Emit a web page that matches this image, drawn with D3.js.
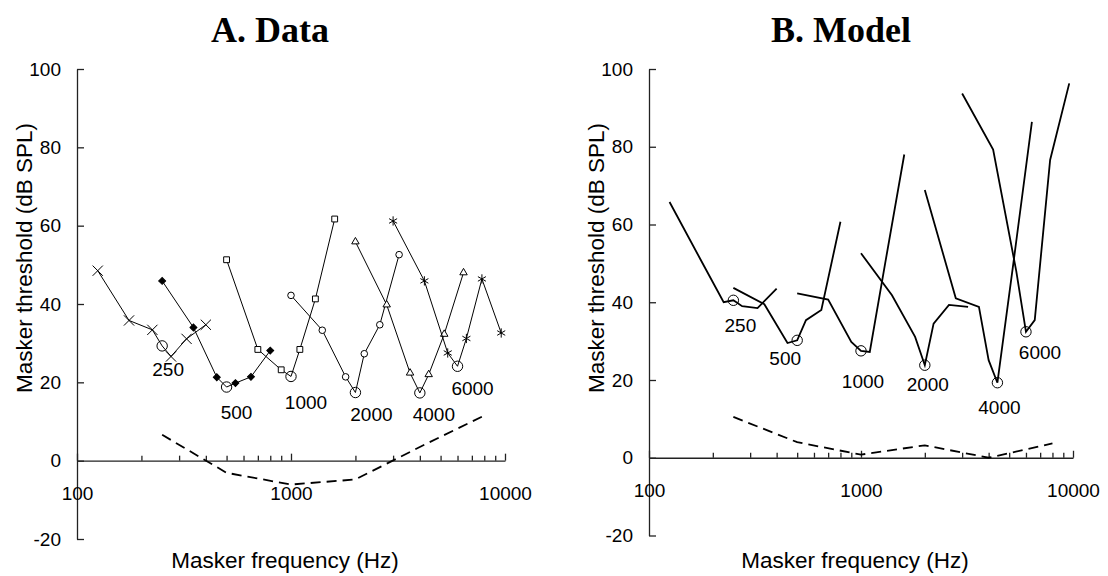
<!DOCTYPE html>
<html>
<head>
<meta charset="utf-8">
<script src="https://cdn.jsdelivr.net/npm/d3@7"></script>
<style>
body { margin: 0; background: #fff; }
svg { display: block; }
</style>
</head>
<body>
<svg></svg>
<script>
const width = 1108;
const height = 576;
const svg = d3.select("svg").attr("width", width).attr("height", height);

// probe frequencies (Hz), one tuning curve each
const probeLabels = ["250", "500", "1000", "2000", "4000", "6000"];
// where the open circle sits on each curve (model 4000 Hz tip is at 4400)
const circlesA = [250, 500, 1000, 2000, 4000, 6000];
const circlesB = [250, 500, 1000, 2000, 4400, 6000];

// A. measured masker thresholds: [masker Hz, dB SPL]
const data250 = [[125, 48.5], [175, 35.8], [225, 33.4], [250, 29.3], [275, 26.6], [325, 31.1], [400, 34.7]];
const data500 = [[250, 45.9], [350, 34.0], [450, 21.3], [500, 18.8], [550, 19.8], [650, 21.4], [800, 28.1]];
const data1000 = [[500, 51.3], [700, 28.4], [900, 23.2], [1000, 21.5], [1100, 28.4], [1300, 41.3], [1600, 61.7]];
const data2000 = [[1000, 42.2], [1400, 33.3], [1800, 21.4], [2000, 17.4], [2200, 27.3], [2600, 34.7], [3200, 52.6]];
const data4000 = [[2000, 55.9], [2800, 39.8], [3600, 22.4], [4000, 17.3], [4400, 22.0], [5200, 32.3], [6400, 48.0]];
const data6000 = [[3000, 61.2], [4200, 45.9], [5400, 27.5], [6000, 24.1], [6600, 31.2], [7800, 46.4], [9600, 32.6]];
const quietData = [[250, 6.6], [500, -3.1], [1000, -6.1], [2000, -4.8], [4000, 3.5], [8000, 11.5]];

// B. model masker thresholds
const model250 = [[125, 65.8], [175, 51.0], [225, 40.0], [250, 40.5], [275, 39.0], [325, 38.5], [400, 43.5]];
const model500 = [[250, 43.7], [350, 39.5], [450, 29.5], [500, 30.2], [550, 35.4], [650, 38.0], [800, 60.7]];
const model1000 = [[500, 42.3], [700, 40.7], [900, 29.8], [1000, 27.5], [1100, 27.2], [1300, 50.0], [1600, 78.0]];
const model2000 = [[1000, 52.6], [1400, 41.8], [1800, 31.1], [2000, 23.8], [2200, 34.5], [2600, 39.3], [3200, 38.8]];
const model4000 = [[2000, 68.9], [2800, 41.0], [3600, 38.8], [4000, 25.1], [4400, 19.3], [5200, 48.9], [6400, 86.4]];
const model6000 = [[3000, 93.7], [4200, 79.3], [5400, 48.0], [6000, 32.4], [6600, 35.4], [7800, 76.6], [9600, 96.3]];
const quietModel = [[250, 10.5], [500, 4.0], [1000, 0.8], [2000, 3.2], [4000, 0.0], [8000, 3.7]];

const yTicks = [-20, 0, 20, 40, 60, 80, 100];
const xMajor = [100, 1000, 10000];

const sansFont = "Liberation Sans, Arial, sans-serif";

// layout for the two panels
const panels = [
	{
		title: "A. Data", titleX: 270,
		left: 77, right: 505, top: 69, bottom: 539,
		series: [data250, data500, data1000, data2000, data4000, data6000],
		circles: circlesA,
		marks: ["times", "diamond", "square", "circle", "triangle", "asterisk"],
		quiet: quietData,
		lineWidth: 1,
		nudge: [[6, 24], [10, 25], [15, 26], [16, 22], [14, 22], [15, 22]]
	},
	{
		title: "B. Model", titleX: 841,
		left: 649, right: 1073, top: 69, bottom: 535.5,
		series: [model250, model500, model1000, model2000, model4000, model6000],
		circles: circlesB,
		marks: null,
		quiet: quietModel,
		lineWidth: 1.8,
		nudge: [[7, 25], [-12, 18], [2, 31], [3, 19], [2, 25], [14, 21]]
	}
];

function markPath(kind) {
	const sym = {
		times: d3.symbol(d3.symbolTimes, 70),
		asterisk: d3.symbol(d3.symbolAsterisk, 60),
		circle: d3.symbol(d3.symbolCircle, 34),
		square: d3.symbol(d3.symbolSquare, 34),
		diamond: d3.symbol(d3.symbolSquare, 24),
		triangle: d3.symbol(d3.symbolTriangle, 24)
	};
	return sym[kind]();
}

function drawPanel(p) {
	const x = d3.scaleLog().domain([100, 10000]).range([p.left, p.right]);
	const y = d3.scaleLinear().domain([-20, 100]).range([p.bottom, p.top]);
	const g = svg.append("g");

	// y axis, ticks pointing inward
	const yAxis = g.append("g")
	.attr("transform", `translate(${p.left},0)`)
	.call(d3.axisLeft(y).tickValues(yTicks).tickSize(-7).tickSizeOuter(0).tickPadding(16)
		.tickFormat(d => String(d)));

	// x axis on the 0 dB line, log ticks pointing up
	const xTicks = [];
	for (let d = 100; d < 10000; d *= 10) {
		for (let k = 1; k < 10; k++) xTicks.push(d * k);
	}
	xTicks.push(10000);
	const xAxis = g.append("g")
	.attr("transform", `translate(0,${y(0)})`)
	.call(d3.axisBottom(x).tickValues(xTicks).tickSize(-5).tickSizeOuter(0).tickPadding(26)
		.tickFormat(d => xMajor.includes(d) ? String(d) : ""));
	xAxis.selectAll(".tick line").filter(d => xMajor.includes(d)).attr("y2", -7);

	[yAxis, xAxis].forEach(ax => {
		ax.selectAll("path, line").attr("stroke", "#222").attr("stroke-width", 1.3);
		ax.selectAll("text").attr("font-family", sansFont).attr("font-size", 19).attr("fill", "#000");
	});

	const line = d3.line().x(d => x(d[0])).y(d => y(d[1]));

	// threshold in quiet
	g.append("path")
	.attr("d", line(p.quiet))
	.attr("fill", "none")
	.attr("stroke", "#000")
	.attr("stroke-width", 1.8)
	.attr("stroke-dasharray", "10,6");

	p.series.forEach((s, i) => {
		g.append("path")
		.attr("d", line(s))
		.attr("fill", "none")
		.attr("stroke", "#000")
		.attr("stroke-width", p.lineWidth);

		if (p.marks) {
			const kind = p.marks[i];
			const filled = kind === "diamond";
			g.selectAll(null)
			.data(s.filter(d => d[0] !== p.circles[i]))
			.join("path")
			.attr("d", markPath(kind))
			.attr("transform", d => `translate(${x(d[0])},${y(d[1])})` + (kind === "diamond" ? " rotate(45)" : ""))
			.attr("fill", filled ? "#000" : "#fff")
			.attr("stroke", "#000")
			.attr("stroke-width", 1);
		}

		// large open circle at the tip, labelled with the probe frequency
		const pt = s.find(d => d[0] === p.circles[i]);
		g.append("circle")
		.attr("cx", x(pt[0]))
		.attr("cy", y(pt[1]))
		.attr("r", 5.2)
		.attr("fill", "none")
		.attr("stroke", "#000")
		.attr("stroke-width", 1);

		g.append("text")
		.attr("x", x(pt[0]) + p.nudge[i][0])
		.attr("y", y(pt[1]) + p.nudge[i][1])
		.attr("text-anchor", "middle")
		.attr("dominant-baseline", "central")
		.attr("font-family", sansFont)
		.attr("font-size", 19)
		.text(probeLabels[i]);
	});

	// titles and axis labels
	g.append("text")
	.attr("x", p.titleX)
	.attr("y", 42)
	.attr("text-anchor", "middle")
	.attr("font-family", "Liberation Serif, Times New Roman, serif")
	.attr("font-weight", "bold")
	.attr("font-size", 36)
	.text(p.title);

	g.append("text")
	.attr("x", (p.left + p.right) / 2 - 6)
	.attr("y", 568)
	.attr("text-anchor", "middle")
	.attr("font-family", sansFont)
	.attr("font-size", 22.5)
	.text("Masker frequency (Hz)");

	g.append("text")
	.attr("transform", `translate(${p.left - 45},258) rotate(-90)`)
	.attr("text-anchor", "middle")
	.attr("font-family", sansFont)
	.attr("font-size", 22.5)
	.text("Masker threshold (dB SPL)");
}

panels.forEach(drawPanel);
</script>
</body>
</html>
